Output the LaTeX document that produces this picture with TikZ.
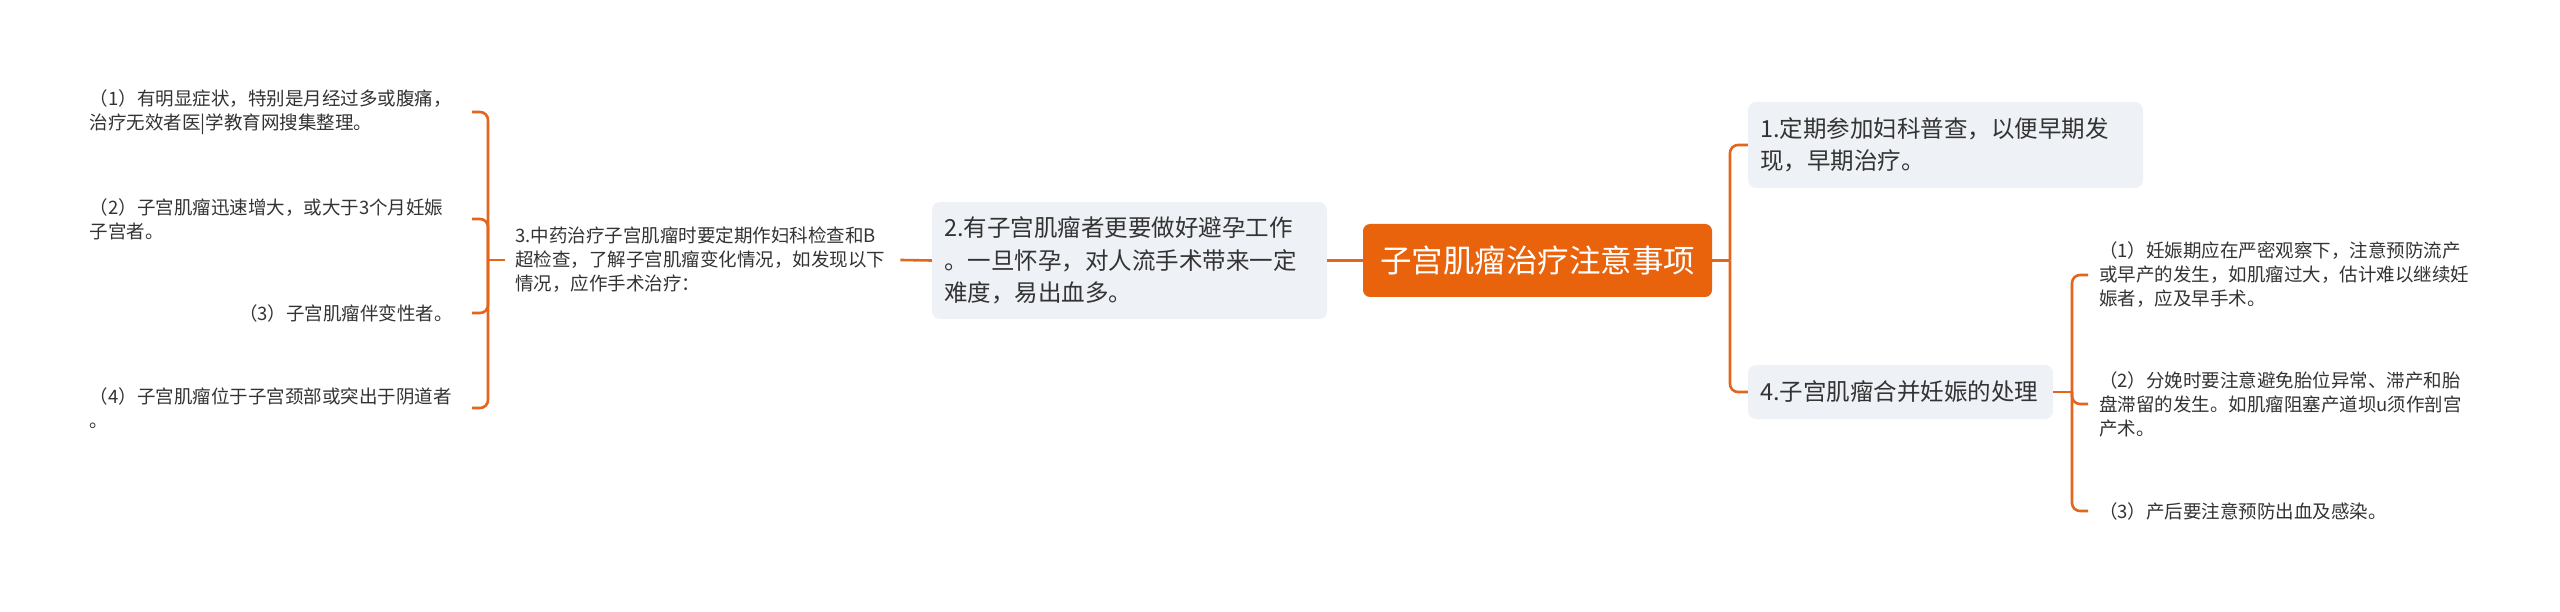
\documentclass[tikz,border=0pt]{standalone}
\usepackage{fontspec}
\setmainfont{Noto Sans CJK SC}
\definecolor{orangemain}{HTML}{E9620C}
\definecolor{conncol}{HTML}{E2661C}
\definecolor{boxfill}{HTML}{EEF1F5}
\definecolor{txt}{HTML}{333333}
\tikzset{
  conn/.style={draw=conncol, line width=2.6pt, rounded corners=8pt},
  rootbox/.style={fill=orangemain, rounded corners=7pt, text=white, inner sep=0pt,
    minimum width=349pt, minimum height=73pt, font=\fontsize{31.5}{38}\selectfont},
  mainbox/.style={fill=boxfill, rounded corners=8pt, text=txt, inner xsep=12pt, inner ysep=0pt,
    align=left, font=\fontsize{23.5}{32.5}\selectfont},
  leafL/.style={text=txt, inner xsep=19pt, inner ysep=0pt, text width=363pt,
    align=left, font=\fontsize{18.5}{24}\selectfont},
  leafR/.style={text=txt, inner xsep=11pt, inner ysep=0pt, text width=378pt,
    align=left, font=\fontsize{18.5}{24}\selectfont},
  midtext/.style={text=txt, inner xsep=10pt, inner ysep=0pt, text width=375pt,
    align=left, font=\fontsize{18.5}{24}\selectfont}
}
\begin{document}
\begin{tikzpicture}[x=1pt,y=-1pt]
\useasboundingbox (0,0) rectangle (2560,612);
% root
\node[rootbox] (root) at (1537.5,260.5) {子宫肌瘤治疗注意事项};
% level 1
\node[mainbox, text width=371pt, minimum height=86pt] (n1) at (1945.5,145) {1.定期参加妇科普查，以便早期发\\现，早期治疗。};
\node[mainbox, text width=281pt, minimum height=54pt] (n4) at (1900.5,392) {4.子宫肌瘤合并妊娠的处理};
\node[mainbox, text width=371pt, minimum height=117pt] (n2) at (1129.5,260.5) {2.有子宫肌瘤者更要做好避孕工作\\。一旦怀孕，对人流手术带来一定\\难度，易出血多。};
% level 2 left
\node[midtext, anchor=west] (n3) at (505,260) {3.中药治疗子宫肌瘤时要定期作妇科检查和B\\超检查，了解子宫肌瘤变化情况，如发现以下\\情况，应作手术治疗：};
% left leaves
\node[leafL, anchor=east] (l1) at (472,112) {（1）有明显症状，特别是月经过多或腹痛，\\治疗无效者医|学教育网搜集整理。};
\node[leafL, anchor=east] (l2) at (472,219) {（2）子宫肌瘤迅速增大，或大于3个月妊娠\\子宫者。};
\node[leafL, anchor=east, align=right] (l3) at (472,313) {（3）子宫肌瘤伴变性者。};
\node[leafL, anchor=east] (l4) at (472,408) {（4）子宫肌瘤位于子宫颈部或突出于阴道者\\。};
% right leaves
\node[leafR, anchor=west] (r1) at (2088,275) {（1）妊娠期应在严密观察下，注意预防流产\\或早产的发生，如肌瘤过大，估计难以继续妊\\娠者，应及早手术。};
\node[leafR, anchor=west] (r2) at (2088,404) {（2）分娩时要注意避免胎位异常、滞产和胎\\盘滞留的发生。如肌瘤阻塞产道坝u须作剖宫\\产术。};
\node[leafR, anchor=west] (r3) at (2088,511) {（3）产后要注意预防出血及感染。};
% junctions
\coordinate (jR) at (1730,260.5);
\coordinate (jR2) at (2072,392);
\coordinate (jL) at (488,260);
% connectors
\draw[conn] (root.west) -- (n2.east);
\draw[conn] (n2.west) -- (n3.east);
\draw[conn] (root.east) -- (jR);
\draw[conn] (jR) |- (n1.west);
\draw[conn] (jR) |- (n4.west);
\draw[conn] (n4.east) -- (jR2);
\draw[conn] (jR2) |- (r1.west);
\draw[conn] (jR2) |- (r2.west);
\draw[conn] (jR2) |- (r3.west);
\draw[conn] (n3.west) -- (jL);
\draw[conn] (jL) |- (l1.east);
\draw[conn] (jL) |- (l2.east);
\draw[conn] (jL) |- (l3.east);
\draw[conn] (jL) |- (l4.east);
\end{tikzpicture}
\end{document}
